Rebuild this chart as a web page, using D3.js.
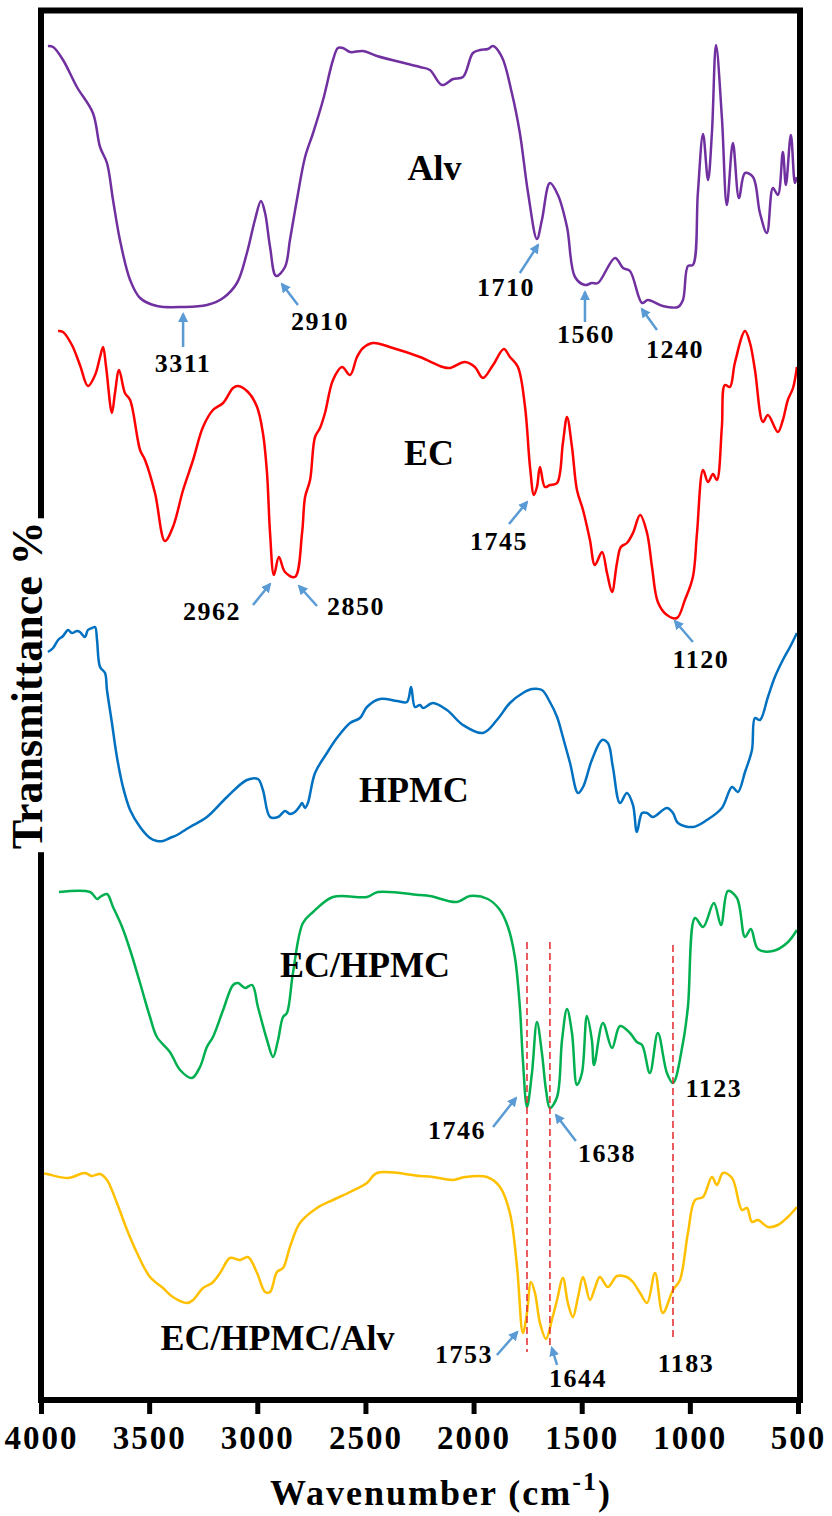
<!DOCTYPE html>
<head>
<meta charset="utf-8">
<title>FTIR spectra | Alv, EC, HPMC</title>
<style>
body {
  margin: 0;
  padding: 0;
  background: #fff;
}
text {
  font-family: "Liberation Serif", "Times New Roman", serif;
  font-weight: bold;
  fill: #000;
}
.spectrum {
  fill: none;
  stroke-width: 2.5;
  stroke-linejoin: round;
}
.frame {
  fill: none;
  stroke: #000;
  stroke-width: 6;
}
.arrow {
  stroke: #5b9bd5;
  stroke-width: 2.5;
}
.peak-line {
  stroke: #e3262b;
  stroke-width: 1.5;
  stroke-dasharray: 7,4;
}
.label { font-size: 36px; }
.peak { font-size: 26px; letter-spacing: 1.5px; }
</style>
</head>
<body>
<svg id="viz" width="832" height="1516"></svg>
<script src="https://cdn.jsdelivr.net/npm/d3@7/dist/d3.min.js"></script>
<script>

// spectra: [wavenumber cm-1, transmittance (stacked, a.u.)]
var alv = [[3968,135.4],[3944,135.3],[3898,134.0],[3834,131.3],[3760,128.7],[3727,125.3],[3695,123.7],
  [3667,120.0],[3635,116.0],[3588,112.0],[3542,110.2],[3464,109.4],[3343,109.3],[3233,109.5],[3158,110.2],
  [3094,111.7],[3048,114.7],[3011,118.0],[2983,119.9],[2964,118.7],[2941,115.3],[2913,112.4],[2872,113.3],
  [2849,116.0],[2817,120.0],[2779,124.3],[2742,126.7],[2696,130.0],[2650,134.0],[2627,135.2],[2604,135.2],
  [2571,134.8],[2511,134.9],[2447,134.4],[2248,133.3],[2202,133.0],[2146,131.5],[2095,132.1],[2049,132.3],
  [2003,134.7],[1970,135.0],[1934,135.1],[1910,135.4],[1869,134.3],[1823,130.7],[1786,126.7],[1748,120.7],
  [1707,116.1],[1684,118.0],[1647,121.7],[1610,120.5],[1568,117.3],[1531,112.3],[1485,111.5],[1453,111.7],
  [1425,111.7],[1346,114.2],[1309,113.2],[1277,112.9],[1221,109.7],[1194,110.0],[1125,109.4],[1055,109.3],
  [1032,110.0],[1009,113.4],[986,113.5],[963,120.7],[939,126.6],[916,122.0],[898,126.7],[879,135.5],
  [852,128.3],[829,119.5],[801,125.7],[773,120.2],[745,122.7],[708,122.3],[676,118.7],[644,116.7],
  [616,121.2],[593,120.5],[570,124.8],[556,121.5],[533,126.5],[514,121.7],[505,122.3]]

var ec = [[3921,106.9],[3898,106.8],[3857,105.5],[3820,103.5],[3783,101.4],[3750,102.5],[3727,104.3],
  [3713,105.3],[3699,103.3],[3672,98.7],[3658,100.7],[3639,103.0],[3612,100.7],[3588,100.0],[3542,95.0],
  [3519,94.0],[3473,90.7],[3427,85.9],[3390,87.3],[3343,91.0],[3297,94.0],[3251,97.3],[3205,99.0],
  [3158,99.7],[3112,101.2],[3089,101.4],[3043,100.8],[3001,99.3],[2974,96.7],[2955,92.7],[2941,86.7],
  [2923,82.5],[2900,84.3],[2872,82.8],[2826,82.3],[2793,86.7],[2779,90.3],[2756,92.0],[2733,96.3],
  [2710,97.2],[2687,98.7],[2650,102.0],[2608,103.3],[2571,102.5],[2539,104.3],[2511,105.2],[2465,105.7],
  [2373,105.2],[2248,104.3],[2142,103.3],[2109,103.2],[2040,103.8],[1994,103.3],[1957,102.2],[1910,103.5],
  [1860,105.1],[1832,104.3],[1795,103.3],[1762,99.3],[1739,93.3],[1721,90.5],[1707,91.3],[1693,93.3],
  [1670,91.3],[1647,91.5],[1614,91.7],[1587,95.7],[1568,98.3],[1545,95.3],[1522,91.0],[1494,89.0],
  [1462,86.0],[1439,83.5],[1406,84.8],[1383,82.7],[1360,80.8],[1337,83.7],[1319,85.3],[1291,85.7],
  [1263,86.7],[1230,88.5],[1198,86.7],[1175,83.3],[1148,79.8],[1106,78.5],[1060,78.2],[1023,80.0],
  [986,82.3],[967,86.7],[939,93.0],[916,91.8],[893,92.6],[875,92.0],[852,97.3],[838,101.5],[815,101.3],
  [792,103.7],[745,106.9],[722,105.7],[699,103.0],[662,97.8],[639,98.5],[593,96.8],[570,98.0],
  [547,100.0],[523,101.2],[505,103.3]]

var hpmc = [[3968,74.8],[3944,75.2],[3921,76.0],[3898,76.4],[3875,77.0],[3857,76.7],[3834,76.9],
  [3820,76.8],[3797,76.3],[3783,77.0],[3764,77.2],[3750,77.3],[3741,76.0],[3727,73.3],[3704,72.7],
  [3695,71.0],[3672,67.7],[3649,64.3],[3621,61.3],[3588,59.0],[3542,57.3],[3496,56.2],[3464,55.9],
  [3436,55.9],[3404,56.2],[3371,56.5],[3311,57.3],[3233,58.3],[3140,60.3],[3048,62.0],[2997,62.1],
  [2974,61.0],[2941,58.3],[2904,58.3],[2872,58.9],[2849,58.6],[2826,58.8],[2803,59.4],[2793,59.7],
  [2779,59.2],[2766,59.7],[2733,62.7],[2678,64.7],[2632,66.2],[2571,67.7],[2525,68.2],[2493,69.3],
  [2433,70.1],[2354,69.9],[2308,69.8],[2289,71.3],[2271,69.3],[2248,69.5],[2234,69.2],[2188,69.7],
  [2123,69.0],[2049,67.5],[1957,66.7],[1892,68.0],[1832,69.7],[1772,70.7],[1730,71.1],[1684,71.0],
  [1647,69.8],[1614,68.3],[1587,66.3],[1554,63.7],[1517,60.7],[1494,61.3],[1453,64.0],[1406,66.0],
  [1379,65.7],[1356,63.3],[1323,59.7],[1291,60.7],[1263,59.5],[1245,56.8],[1221,58.7],[1198,58.7],
  [1171,58.3],[1106,59.2],[1078,58.7],[1055,57.7],[986,57.3],[921,58.0],[852,59.2],[805,61.3],
  [778,60.8],[745,62.8],[713,65.0],[699,68.2],[676,68.0],[639,70.3],[607,72.3],[570,74.0],[537,75.3],
  [505,76.7]]

var ecHpmc = [[3917,50.8],[3773,50.8],[3741,50.1],[3727,50.3],[3695,50.6],[3667,49.3],[3625,47.3],
  [3588,45.0],[3542,41.7],[3496,38.3],[3464,36.3],[3404,34.8],[3357,33.0],[3302,32.2],[3265,33.3],
  [3233,35.3],[3205,36.3],[3158,39.0],[3112,41.5],[3089,41.7],[3057,41.2],[3024,41.5],[2997,39.3],
  [2955,36.0],[2927,34.3],[2904,36.0],[2881,38.3],[2863,38.7],[2835,42.7],[2789,47.7],[2742,48.8],
  [2650,50.3],[2493,50.3],[2442,50.8],[2248,50.5],[2202,50.4],[2077,49.8],[2017,50.4],[1934,50.1],
  [1878,49.0],[1841,47.3],[1809,44.3],[1786,39.3],[1772,34.0],[1753,29.3],[1730,32.7],[1707,37.8],
  [1684,34.7],[1665,31.0],[1647,29.2],[1614,30.3],[1591,36.0],[1568,39.1],[1545,36.7],[1522,31.5],
  [1499,32.7],[1476,38.4],[1453,36.0],[1443,33.5],[1402,37.7],[1360,35.2],[1323,37.4],[1277,36.7],
  [1245,35.8],[1221,35.5],[1185,32.7],[1148,36.7],[1106,32.7],[1078,31.7],[1032,35.7],[1009,39.3],
  [976,48.2],[939,47.3],[889,49.7],[856,47.5],[824,50.9],[782,50.2],[745,46.3],[718,47.1],[685,45.1],
  [616,44.9],[551,45.7],[505,47.0]]

var ecHpmcAlv = [[4000,22.7],[3972,22.6],[3875,22.2],[3797,22.7],[3764,22.4],[3727,22.6],[3695,22.0],
  [3649,19.7],[3602,17.0],[3556,14.7],[3496,12.3],[3436,11.2],[3390,10.3],[3325,9.7],[3297,10.0],
  [3251,11.2],[3209,11.7],[3172,12.7],[3126,14.2],[3080,14.0],[3043,14.3],[3001,12.7],[2964,10.8],
  [2941,10.8],[2909,12.8],[2881,13.2],[2849,15.3],[2803,17.7],[2724,19.2],[2650,20.0],[2571,20.8],
  [2493,21.7],[2447,22.7],[2248,22.4],[2188,22.3],[2095,22.0],[2040,22.3],[1938,22.3],[1878,21.3],
  [1832,18.7],[1799,13.3],[1772,6.7],[1753,8.7],[1735,11.8],[1716,10.7],[1693,7.7],[1665,6.1],
  [1638,8.0],[1614,10.0],[1587,12.2],[1564,9.7],[1541,8.3],[1517,10.3],[1494,12.3],[1462,10.0],
  [1439,11.2],[1416,12.3],[1379,11.3],[1337,12.4],[1291,12.3],[1263,11.8],[1230,10.7],[1198,9.7],
  [1161,12.7],[1125,8.7],[1078,11.0],[1046,12.0],[1009,16.7],[976,20.0],[939,20.3],[898,22.3],
  [875,21.5],[847,22.7],[805,22.2],[759,19.0],[736,19.2],[713,17.8],[685,18.0],[639,17.3],[593,17.5],
  [547,18.3],[505,19.3]]

var seriesNames = ['Alv', 'EC', 'HPMC', 'EC/HPMC', 'EC/HPMC/Alv']
var seriesData = [alv, ec, hpmc, ecHpmc, ecHpmcAlv]
var seriesColors = ['#7030a0', '#ff0000', '#0070c0', '#00b050', '#ffc000']
// where each series name is written [wavenumber, transmittance]
var nameAt = [[2181,122.0], [2206,93.5], [2276,59.8], [2502,42.3], [2907,5.0]]

var xTicks = [4000, 3500, 3000, 2500, 2000, 1500, 1000, 500]

// peak labels: text, label position, arrow start, arrow end (null = no arrow)
var peaks = [
  ['3311', [3343,102.8], [3343,105.3], [3343,108.6]],
  ['2910', [2710,107.0], [2812,109.5], [2886,111.6]],
  ['1710', [1850,110.4], [1786,112.7], [1702,115.5]],
  ['1560', [1480,105.7], [1485,107.8], [1485,110.8]],
  ['1240', [1069,104.2], [1152,107.0], [1222,109.1]],
  ['2962', [3209,78.0], [3020,79.5], [2941,81.6]],
  ['2850', [2544,78.5], [2724,79.4], [2807,81.4]],
  ['1745', [1883,85.0], [1836,87.6], [1753,89.8]],
  ['1120', [949,73.2], [986,75.8], [1069,77.9]],
  ['1746', [2077,26.1], [1910,27.3], [1804,30.2]],
  ['1638', [1383,23.8], [1527,25.9], [1619,28.5]],
  ['1123', [889,30.3], null, null],
  ['1753', [2044,3.7], [1892,4.5], [1798,6.8]],
  ['1644', [1517,1.3], [1614,3.5], [1638,5.2]],
  ['1183', [1018,2.8], null, null]
]

// red dashed guides: wavenumber, top, bottom
var guides = [[1753,45.8,4.8], [1647,45.8,5.3], [1078,45.5,6.3]]

var svg = d3.select('#viz')

var x = d3.scaleLinear().domain([4000, 500]).range([41, 798])
var y = d3.scaleLinear().domain([0, 140]).range([1400, 0])

var line = d3.line()
  .x(function(d) { return x(d[0]) })
  .y(function(d) { return y(d[1]) })
  .curve(d3.curveCatmullRom.alpha(0.5))

var defs = svg.append('defs')
defs.append('marker')
  .attr('id', 'head')
  .attr('viewBox', '0 0 10 10')
  .attr('refX', 8)
  .attr('refY', 5)
  .attr('markerWidth', 4)
  .attr('markerHeight', 4)
  .attr('orient', 'auto')
  .append('path')
  .attr('d', 'M0,0L10,5L0,10z')
  .attr('fill', '#5b9bd5')

// spectra
svg.append('g').selectAll('path')
  .data(seriesData)
  .enter().append('path')
  .attr('class', 'spectrum')
  .attr('stroke', function(d, i) { return seriesColors[i] })
  .attr('d', line)

// dashed guides
svg.append('g').selectAll('line')
  .data(guides)
  .enter().append('line')
  .attr('class', 'peak-line')
  .attr('x1', function(d) { return x(d[0]) })
  .attr('x2', function(d) { return x(d[0]) })
  .attr('y1', function(d) { return y(d[1]) })
  .attr('y2', function(d) { return y(d[2]) })

// series names
svg.append('g').selectAll('text')
  .data(seriesNames)
  .enter().append('text')
  .attr('class', 'label')
  .attr('text-anchor', 'middle')
  .attr('x', function(d, i) { return x(nameAt[i][0]) })
  .attr('y', function(d, i) { return y(nameAt[i][1]) })
  .text(function(d) { return d })

// peak arrows + numbers
var arrows = peaks.filter(function(p) { return p[2] })
svg.append('g').selectAll('line')
  .data(arrows)
  .enter().append('line')
  .attr('class', 'arrow')
  .attr('marker-end', 'url(#head)')
  .attr('x1', function(d) { return x(d[2][0]) })
  .attr('y1', function(d) { return y(d[2][1]) })
  .attr('x2', function(d) { return x(d[3][0]) })
  .attr('y2', function(d) { return y(d[3][1]) })

svg.append('g').selectAll('text')
  .data(peaks)
  .enter().append('text')
  .attr('class', 'peak')
  .attr('text-anchor', 'middle')
  .attr('x', function(d) { return x(d[1][0]) })
  .attr('y', function(d) { return y(d[1][1]) })
  .text(function(d) { return d[0] })

// frame
var x0 = x.range()[0], x1 = 800, yTop = 10.5, yBot = y(0)
svg.append('rect')
  .attr('class', 'frame')
  .attr('x', x0).attr('y', yTop)
  .attr('width', x1 - x0).attr('height', yBot - yTop)

// x axis
var xAxis = svg.append('g')
  .attr('transform', 'translate(0,' + yBot + ')')
  .call(d3.axisBottom(x).tickValues(xTicks).tickFormat(d3.format('d'))
    .tickSizeInner(14).tickSizeOuter(0).tickPadding(12))
xAxis.select('.domain').remove()
xAxis.selectAll('.tick line').attr('stroke', '#000').attr('stroke-width', 5)
xAxis.selectAll('.tick text')
  .attr('font-family', null)
  .style('font-size', '33px')
  .style('letter-spacing', '2px')

// axis titles
var xt = svg.append('text')
  .attr('x', 441)
  .attr('y', 1505)
  .attr('text-anchor', 'middle')
  .style('font-size', '36px')
  .style('letter-spacing', '2px')
xt.append('tspan').text('Wavenumber (cm')
xt.append('tspan').attr('dy', -15).style('font-size', '26px').text('-1')
xt.append('tspan').attr('dy', 15).text(')')

var yt = svg.append('g')
  .attr('transform', 'translate(42,' + ((yTop + yBot) / 2 - 20) + ') rotate(-90)')
var ytText = yt.append('text')
  .attr('text-anchor', 'middle')
  .style('font-size', '44px')
  .text('Transmittance %')
var bb = ytText.node().getBBox()
yt.insert('rect', 'text')
  .attr('x', bb.x - 3)
  .attr('width', bb.width + 6)
  .attr('y', -5)
  .attr('height', 10)
  .attr('fill', '#fff')

</script>
</body>
</html>
